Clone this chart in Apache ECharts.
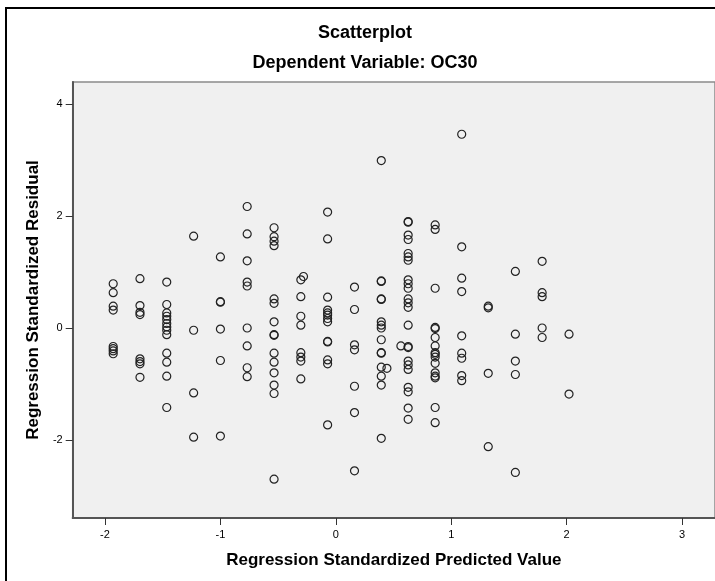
<!DOCTYPE html>
<html>
<head>
<meta charset="utf-8">
<script src="https://cdn.jsdelivr.net/npm/echarts@6/dist/echarts.min.js"></script>
<style>
html,body{margin:0;padding:0;background:#fff;}
#chart{width:715px;height:581px;}
</style>
</head>
<body>
<div id="chart"></div>
<script>
// Predicted value levels (columns) and standardized residuals at each level
const predictedLevels = [-1.929, -1.697, -1.465, -1.232, -1.000, -0.768, -0.535, -0.303, -0.071, 0.162, 0.394, 0.627, 0.861, 1.091, 1.321, 1.556, 1.788, 2.021];
const residualsA = [0.79, 0.63, 0.39, 0.32, -0.33, -0.37, -0.41, -0.46];
const residualsB = [0.88, 0.40, 0.28, 0.24, -0.55, -0.60, -0.64, -0.88];
const residualsC = [0.82, 0.42, 0.27, 0.21, 0.15, 0.08, 0.02, -0.04, -0.12, -0.45, -0.61, -0.86, -1.42];
const residualsD = [1.64, -0.04, -1.16, -1.95];
const residualsE = [1.27, 0.47, 0.46, -0.02, -0.58, -1.93];
const residualsF = [2.17, 1.68, 1.20, 0.82, 0.75, 0.00, -0.32, -0.71, -0.87];
const residualsG = [1.79, 1.63, 1.55, 1.47, 0.52, 0.44, 0.11, -0.12, -0.13, -0.45, -0.61, -0.80, -1.02, -1.17, -2.70];
const residualsH = [0.86, 0.56, 0.21, 0.05, -0.44, -0.52, -0.59, -0.91];
const residualsI = [2.07, 1.59, 0.55, 0.32, 0.27, 0.23, 0.17, 0.11, -0.24, -0.25, -0.57, -0.64, -1.73];
const residualsJ = [0.73, 0.33, -0.30, -0.39, -1.04, -1.51, -2.55];
const residualsK = [2.99, 0.84, 0.83, 0.52, 0.51, 0.11, 0.05, 0.00, -0.21, -0.44, -0.45, -0.70, -0.86, -1.02, -1.97];
const residualsL = [1.90, 1.89, 1.66, 1.58, 1.33, 1.27, 1.21, 0.86, 0.79, 0.71, 0.52, 0.45, 0.37, 0.05, -0.33, -0.35, -0.59, -0.66, -0.74, -1.06, -1.14, -1.43, -1.63];
const residualsM = [1.84, 1.76, 0.71, 0.01, -0.01, -0.17, -0.32, -0.44, -0.47, -0.52, -0.63, -0.80, -0.86, -0.89, -1.42, -1.69];
const residualsN = [3.46, 1.45, 0.89, 0.65, -0.14, -0.45, -0.54, -0.85, -0.94];
const residualsO = [0.39, 0.36, -0.81, -2.12];
const residualsP = [1.01, -0.11, -0.59, -0.83, -2.58];
const residualsQ = [1.19, 0.63, 0.56, 0.00, -0.17];
const residualsR = [-0.11, -1.18];
// a few off-column points [predicted, residual]
const extraPoints = [[-0.28, 0.92], [0.443, -0.72], [0.564, -0.32]];

const xTicks = [-2, -1, 0, 1, 2, 3];
const yTicks = [-2, 0, 2, 4];

const residualColumns = [residualsA, residualsB, residualsC, residualsD, residualsE, residualsF, residualsG, residualsH, residualsI, residualsJ, residualsK, residualsL, residualsM, residualsN, residualsO, residualsP, residualsQ, residualsR];

const points = [];
residualColumns.forEach((col, i) => col.forEach(r => points.push([predictedLevels[i], r])));
extraPoints.forEach(p => points.push(p));

const chart = echarts.init(document.getElementById('chart'), null, {renderer: 'canvas'});
const FONT = '"Liberation Sans", Arial, sans-serif';
chart.setOption({
  animation: false,
  backgroundColor: '#ffffff',
  title: [
    {text: 'Scatterplot', left: 365, top: 24, textAlign: 'center', padding: 0,
     textStyle: {fontFamily: FONT, fontSize: 18, fontWeight: 'bold', color: '#000'}},
    {text: 'Dependent Variable: OC30', left: 365, top: 54, textAlign: 'center', padding: 0,
     textStyle: {fontFamily: FONT, fontSize: 18, fontWeight: 'bold', color: '#000'}}
  ],
  graphic: [
    {type: 'rect', shape: {x: 6, y: 8, width: 900, height: 800}, style: {fill: 'none', stroke: '#000', lineWidth: 2}, z: 100}
  ],
  grid: {
    left: 72.7, top: 82, width: 646.6, bottom: 63,
    show: true, backgroundColor: '#f0f0f0', borderColor: '#8a8a8a', borderWidth: 1.5
  },
  xAxis: {
    type: 'value', min: -2.28, max: 3.286,
    name: 'Regression Standardized Predicted Value', nameLocation: 'middle', nameGap: 34,
    nameTextStyle: {fontFamily: FONT, fontSize: 17, fontWeight: 'bold', color: '#000'},
    axisLine: {show: true, onZero: false, lineStyle: {color: '#555', width: 2}},
    axisTick: {show: true, length: 7, inside: false, customValues: xTicks, lineStyle: {color: '#333', width: 1}},
    axisLabel: {show: true, margin: 11, customValues: xTicks, fontFamily: FONT, fontSize: 11, color: '#000'},
    splitLine: {show: false}
  },
  yAxis: {
    type: 'value', min: -3.393, max: 4.393,
    name: 'Regression Standardized Residual', nameLocation: 'middle', nameGap: 31, nameRotate: 90,
    nameTextStyle: {fontFamily: FONT, fontSize: 17, fontWeight: 'bold', color: '#000'},
    axisLine: {show: true, onZero: false, lineStyle: {color: '#555', width: 2}},
    axisTick: {show: true, length: 7, inside: false, customValues: yTicks, lineStyle: {color: '#333', width: 1}},
    axisLabel: {show: true, margin: 10, customValues: yTicks, fontFamily: FONT, fontSize: 11, color: '#000'},
    splitLine: {show: false}
  },
  series: [{
    type: 'scatter',
    data: points,
    symbol: 'circle',
    symbolSize: 8,
    itemStyle: {color: 'rgba(0,0,0,0)', borderColor: '#222', borderWidth: 1.2, opacity: 1},
    emphasis: {disabled: true},
    silent: true
  }]
});
</script>
</body>
</html>
